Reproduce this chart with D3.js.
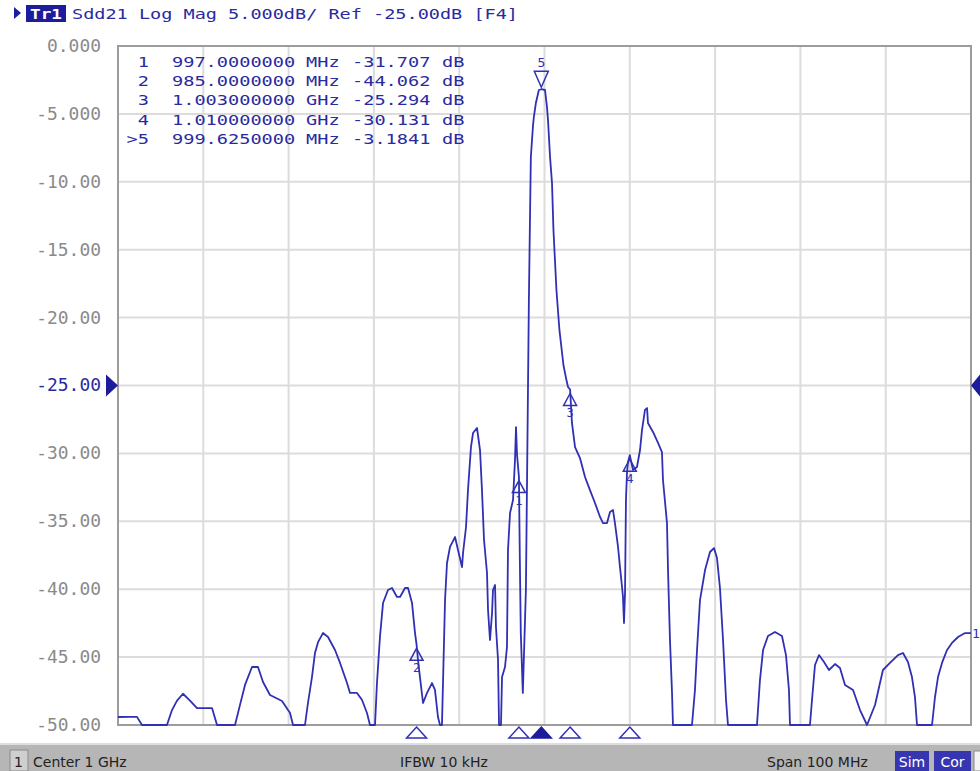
<!DOCTYPE html>
<html>
<head>
<meta charset="utf-8">
<title>Sdd21 Log Mag</title>
<style>
body{ margin:0; background:#fff; }
#vna{ display:block; }
.mono{ font-family:"DejaVu Sans Mono", monospace; }
.grid line{ stroke:#dcdcdc; stroke-width:2; }
.status{ font-family:"DejaVu Sans", sans-serif; font-size:14px; fill:#222; }
</style>
</head>
<body>
<svg id="vna"></svg>
<script src="https://d3js.org/d3.v7.min.js"></script>
<script>
var W = 980, H = 771;
var plot = {left:118, right:971, top:46, bottom:725};
var traceColor = "#3030b4", inkBlue = "#2a2aa0";

// trace (MHz, dB)
var freqMHz = [950.00,951.41,952.23,952.81,955.74,956.33,956.92,957.62,958.44,959.26,961.02,961.61,963.72,964.31,964.89,965.71,966.41,967.00,967.82,969.23,969.93,970.16,970.52,971.92,972.27,972.74,973.09,973.45,974.03,974.62,975.44,976.03,976.85,977.20,978.02,978.61,979.19,979.54,980.13,980.36,980.71,981.07,981.65,982.12,982.71,983.06,983.65,984.00,984.47,984.82,985.00,985.17,985.40,985.76,986.23,986.81,987.16,987.51,987.75,987.98,988.10,988.34,988.57,988.92,989.51,989.86,990.33,990.45,990.80,991.03,991.38,991.62,992.09,992.44,992.67,992.91,993.26,993.38,993.61,993.85,993.96,994.20,994.31,994.55,994.67,994.90,995.02,995.37,995.60,995.72,995.96,996.31,996.54,996.66,996.78,997.00,997.11,997.22,997.46,997.82,997.93,998.05,998.17,998.28,998.40,998.64,998.75,998.99,999.34,999.625,1000.06,1000.29,1000.41,1000.65,1000.88,1001.05,1001.40,1001.75,1002.22,1002.57,1002.76,1003.00,1003.22,1003.58,1004.16,1004.75,1005.33,1005.92,1006.51,1006.86,1007.33,1007.68,1008.03,1008.26,1008.62,1008.85,1009.09,1009.20,1009.32,1009.44,1009.55,1009.67,1009.79,1010.00,1010.37,1010.84,1011.20,1011.43,1011.78,1012.02,1012.13,1012.72,1013.31,1013.77,1013.89,1014.36,1014.48,1014.71,1014.95,1015.06,1017.29,1017.64,1017.88,1018.23,1018.82,1019.40,1019.87,1020.22,1020.57,1020.93,1021.28,1021.51,1024.91,1025.26,1025.62,1026.20,1027.02,1027.84,1028.31,1028.66,1028.78,1031.12,1031.36,1031.71,1032.18,1032.77,1033.35,1034.06,1034.64,1035.23,1036.17,1036.99,1037.81,1038.75,1039.33,1039.68,1040.50,1041.44,1042.03,1042.61,1043.08,1043.43,1043.67,1045.43,1045.78,1046.13,1046.60,1047.19,1047.77,1048.48,1049.30,1050.00];
var sdd21 = [-49.41,-49.40,-49.40,-50,-50,-48.90,-48.20,-47.70,-48.20,-48.75,-48.75,-50,-50,-48.50,-47.05,-45.73,-45.73,-46.83,-47.79,-48.23,-48.90,-49.10,-50,-50,-48.38,-46.47,-44.70,-43.90,-43.23,-43.52,-44.48,-45.43,-46.91,-47.64,-47.64,-48.16,-49.12,-50,-50,-46.91,-43.52,-41.02,-40.06,-39.91,-40.57,-40.57,-39.91,-39.91,-41.02,-43.23,-44.06,-45.20,-46.47,-48.38,-47.64,-46.91,-47.42,-49.41,-50,-50,-46.91,-40.80,-38.07,-36.89,-36.16,-37.11,-38.37,-37.33,-35.42,-32.70,-29.53,-28.50,-28.13,-29.75,-32.70,-36.38,-38.81,-41.53,-43.74,-41.75,-40.06,-39.69,-42.78,-45.20,-50,-50,-46.47,-45.73,-44.26,-37.11,-34.39,-33.43,-30.49,-28.06,-30.10,-31.707,-37.85,-43.23,-47.64,-40.06,-33.43,-26.07,-18.70,-13.55,-8.17,-5.96,-5.23,-4.20,-3.24,-3.1841,-3.24,-4.49,-5.45,-8.17,-10.09,-13.55,-17.97,-20.91,-23.49,-24.60,-25.11,-25.294,-27.76,-29.53,-30.34,-31.74,-32.70,-33.65,-34.68,-35.13,-35.13,-34.31,-34.17,-35.13,-36.89,-38.37,-39.84,-40.57,-42.49,-40.28,-33.43,-31.44,-30.63,-30.131,-31.22,-31.00,-29.75,-28.28,-26.80,-26.66,-27.76,-28.42,-29.23,-29.90,-31.96,-35.13,-38.59,-43.74,-47.64,-50,-50,-47.42,-44.48,-40.80,-38.59,-37.26,-36.97,-37.70,-39.91,-43.74,-48.16,-50,-50,-46.69,-44.48,-43.45,-43.15,-43.45,-44.85,-47.42,-50,-50,-48.16,-45.58,-44.85,-45.36,-45.95,-45.51,-45.80,-47.05,-47.42,-48.90,-50,-48.53,-46.91,-45.95,-45.43,-44.85,-44.70,-45.36,-46.47,-47.94,-50,-50,-47.94,-46.47,-45.43,-44.48,-43.96,-43.52,-43.23,-43.23];

var xTicks = [950,960,970,980,990,1000,1010,1020,1030,1040,1050];
var yTicks = [0,-5,-10,-15,-20,-25,-30,-35,-40,-45,-50];
var yTickLabels = ["0.000","-5.000","-10.00","-15.00","-20.00","-25.00","-30.00","-35.00","-40.00","-45.00","-50.00"];
var refLevel = -25;

var markerIds = ["1","2","3","4","5"];
var markerFreq = [997, 985, 1003, 1010, 999.625];
var markerVal = [-31.707, -44.062, -25.294, -30.131, -3.1841];
var markerIdLabels = ["1","2","3","4",">5"];
var markerFreqLabels = ["997.0000000","985.0000000","1.003000000","1.010000000","999.6250000"];
var markerUnits = ["MHz","MHz","GHz","GHz","MHz"];
var markerValLabels = ["-31.707","-44.062","-25.294","-30.131","-3.1841"];
var activeMarker = 4;

var headerText = "Sdd21 Log Mag 5.000dB/ Ref -25.00dB [F4]";
var statusTexts = ["Center 1 GHz", "IFBW 10 kHz", "Span 100 MHz"];
var statusX = [33, 400, 767];

var svg = d3.select("#vna").attr("width", W).attr("height", H);

var x = d3.scaleLinear().domain([950,1050]).range([plot.left, plot.right]);
var y = d3.scaleLinear().domain([-50,0]).range([plot.bottom, plot.top]);

// plot background + grid
svg.append("rect").attr("x", plot.left).attr("y", plot.top)
    .attr("width", plot.right-plot.left).attr("height", plot.bottom-plot.top)
    .attr("fill", "#fff");

var grid = svg.append("g").attr("class","grid");
grid.selectAll("line.v").data(xTicks).enter().append("line")
    .attr("x1", d => x(d)).attr("x2", d => x(d))
    .attr("y1", plot.top).attr("y2", plot.bottom);
grid.selectAll("line.h").data(yTicks).enter().append("line")
    .attr("x1", plot.left).attr("x2", plot.right)
    .attr("y1", d => y(d)).attr("y2", d => y(d));

svg.append("rect").attr("x", plot.left).attr("y", plot.top)
    .attr("width", plot.right-plot.left).attr("height", plot.bottom-plot.top)
    .attr("fill", "none").attr("stroke", "#9c9c9c").attr("stroke-width", 2);

// y labels
var yAxis = d3.axisLeft(y).tickValues(yTicks)
    .tickFormat((d,i) => yTickLabels[i]).tickSize(0).tickPadding(0);
var ya = svg.append("g").attr("transform", "translate(101,0)").call(yAxis);
ya.select(".domain").remove();
ya.selectAll("text")
    .attr("class","mono")
    .style("font-size","17px")
    .attr("fill", d => d === refLevel ? inkBlue : "#8a8a8a")
    .attr("textLength", function(d,i){ return yTickLabels[i].length*10.8; })
    .attr("lengthAdjust","spacingAndGlyphs");

// reference level arrows
svg.append("path")
    .attr("d", "M106," + (y(refLevel)-11) + "L118," + y(refLevel) + "L106," + (y(refLevel)+11) + "Z")
    .attr("fill", "#1c1c9c");
svg.append("path")
    .attr("d", "M980," + (y(refLevel)-11) + "L971," + y(refLevel) + "L980," + (y(refLevel)+11) + "Z")
    .attr("fill", "#1c1c9c");

// trace
var pts = freqMHz.map((f,i) => [f, sdd21[i]]);
var line = d3.line().x(d => x(d[0])).y(d => y(d[1]));
svg.append("path").datum(pts)
    .attr("d", line)
    .attr("fill","none")
    .attr("stroke", traceColor)
    .attr("stroke-width", 1.8)
    .attr("stroke-linejoin","round");

// trace number at the right end
svg.append("text").attr("class","mono")
    .attr("x", 972).attr("y", y(sdd21[sdd21.length-1]) + 5)
    .style("font-size","13px").attr("fill", traceColor).text("1");

// markers on the trace
markerIds.forEach(function(id, i){
    var mx = x(markerFreq[i]), my = y(markerVal[i]);
    if (i === activeMarker) {
        svg.append("path")
            .attr("d", "M"+(mx-7)+","+(my-18)+"L"+(mx+7)+","+(my-18)+"L"+mx+","+(my-2)+"Z")
            .attr("fill","none").attr("stroke", traceColor).attr("stroke-width",1.5);
        svg.append("text").attr("class","mono").attr("text-anchor","middle")
            .attr("x", mx).attr("y", my-22)
            .style("font-size","13px").attr("fill", traceColor).text(id);
    } else {
        svg.append("path")
            .attr("d", "M"+mx+","+(my+4)+"L"+(mx+6.5)+","+(my+16)+"L"+(mx-6.5)+","+(my+16)+"Z")
            .attr("fill","none").attr("stroke", traceColor).attr("stroke-width",1.5);
        svg.append("text").attr("class","mono").attr("text-anchor","middle")
            .attr("x", mx).attr("y", my+28)
            .style("font-size","12px").attr("fill", traceColor).text(id);
    }
    // marker position arrows under the grid
    svg.append("path")
        .attr("d", "M"+mx+",727L"+(mx+10)+",738L"+(mx-10)+",738Z")
        .attr("fill", i === activeMarker ? "#1c1c9c" : "#fff")
        .attr("stroke", i === activeMarker ? "#1c1c9c" : traceColor)
        .attr("stroke-width", 1.5);
});

// marker table
var rowY = d => 67 + d*19.2;
var tbl = svg.append("g").attr("class","mono").style("font-size","14px").attr("fill", inkBlue);
function cell(str, xs, i, anchor){
    tbl.append("text").attr("x", xs).attr("y", rowY(i))
        .attr("text-anchor", anchor || "start")
        .attr("textLength", str.length*11.2).attr("lengthAdjust","spacingAndGlyphs")
        .text(str);
}
markerIdLabels.forEach(function(s,i){
    cell(s, 149, i, "end");
    cell(markerFreqLabels[i], 172, i);
    cell(markerUnits[i], 306, i);
    cell(markerValLabels[i], 352, i);
    cell("dB", 442, i);
});

// header
svg.append("path").attr("d","M14,7L21,13L14,19Z").attr("fill","#1c1c9c");
svg.append("rect").attr("x",26).attr("y",5).attr("width",40).attr("height",17).attr("fill","#1c1c9c");
svg.append("text").attr("class","mono").attr("x",30).attr("y",18.5)
    .style("font-size","14px").style("font-weight","bold").attr("fill","#fff")
    .attr("textLength",32).attr("lengthAdjust","spacingAndGlyphs").text("Tr1");
svg.append("text").attr("class","mono").attr("x",72).attr("y",19)
    .style("font-size","14px").attr("fill", inkBlue)
    .attr("textLength", 446).attr("lengthAdjust","spacingAndGlyphs")
    .text(headerText);

// status bar
svg.append("rect").attr("x",0).attr("y",745).attr("width",W).attr("height",26).attr("fill","#b6b6b6");
svg.append("rect").attr("x",0).attr("y",743).attr("width",W).attr("height",2).attr("fill","#dedede");
svg.append("rect").attr("x",10).attr("y",750).attr("width",18).attr("height",21)
    .attr("fill","#cfcfcf").attr("stroke","#8a8a8a");
svg.append("text").attr("class","status").attr("x",14).attr("y",767).text("1");
statusTexts.forEach(function(s,i){
    svg.append("text").attr("class","status").attr("x", statusX[i]).attr("y",767).text(s);
});
[["Sim",895,34],["Cor",934,37]].forEach(function(b){
    svg.append("rect").attr("x",b[1]).attr("y",751).attr("width",b[2]).attr("height",20).attr("fill","#3636b0");
    svg.append("text").attr("class","status").attr("x", b[1]+b[2]/2).attr("y",767)
        .attr("text-anchor","middle").attr("fill","#fff").style("fill","#fff").text(b[0]);
});
svg.append("rect").attr("x",974).attr("y",751).attr("width",8).attr("height",20)
    .attr("fill","#f4f4f4").attr("stroke","#8a8a8a");
</script>
</body>
</html>
